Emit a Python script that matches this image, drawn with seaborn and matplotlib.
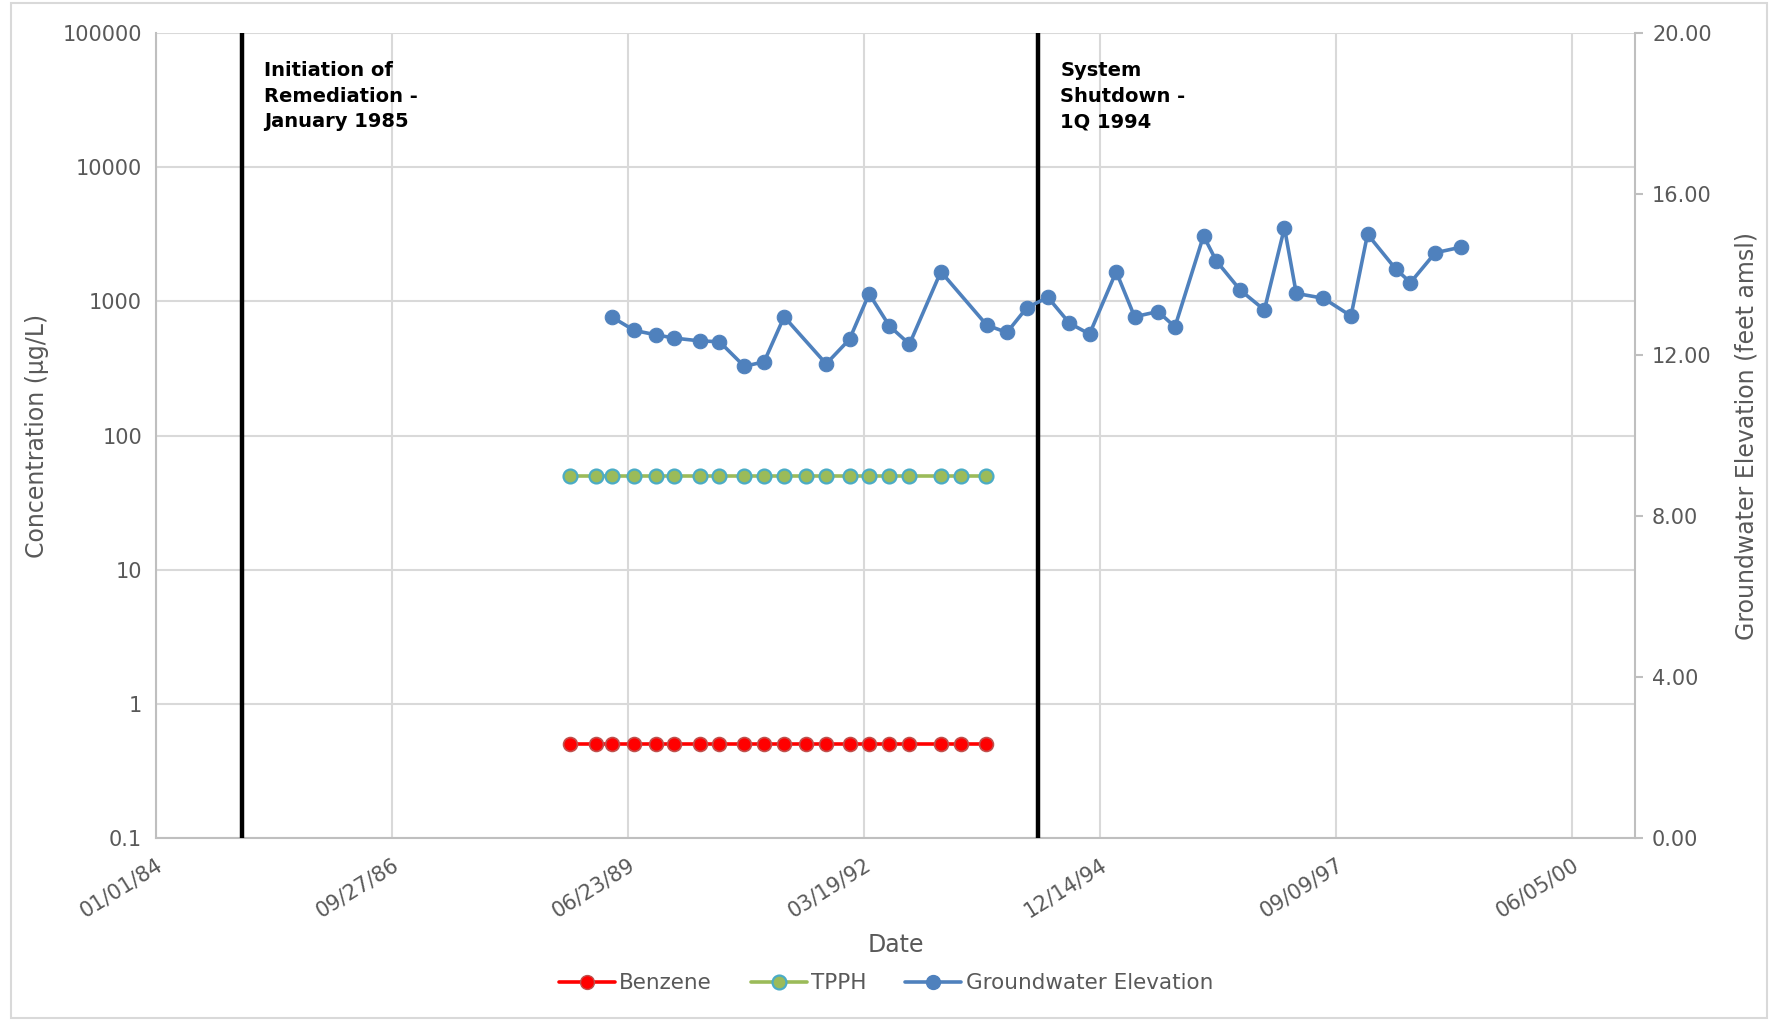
import numpy as np
import pandas as pd
import matplotlib
matplotlib.use("Agg")
import matplotlib.pyplot as plt
import matplotlib.dates as mdates
import matplotlib.patches as mpatches
from matplotlib.lines import Line2D
import seaborn as sns

# ---------------- data ----------------
origin = pd.Timestamp("1984-01-01")
sample_days = [1755, 1864, 1932, 2027, 2120, 2197, 2305, 2388, 2493, 2577,
               2662, 2755, 2840, 2939, 3022, 3108, 3193, 3326, 3411, 3519]
benzene = [0.5, 0.5, 0.5, 0.5, 0.5, 0.5, 0.5, 0.5, 0.5, 0.5,
           0.5, 0.5, 0.5, 0.5, 0.5, 0.5, 0.5, 0.5, 0.5, 0.5]
tpph = [50, 50, 50, 50, 50, 50, 50, 50, 50, 50,
        50, 50, 50, 50, 50, 50, 50, 50, 50, 50]
gw_days = [1933, 2027, 2120, 2197, 2305, 2388, 2493, 2577, 2662, 2840,
           2939, 3022, 3108, 3193, 3326, 3521, 3606, 3691, 3780, 3871,
           3956, 4069, 4147, 4246, 4318, 4439, 4493, 4595, 4697, 4782,
           4832, 4947, 5064, 5134, 5253, 5316, 5421, 5531]
gw_elev = [12.94, 12.61, 12.50, 12.42, 12.35, 12.33, 11.72, 11.83, 12.95, 11.78,
           12.39, 13.52, 12.72, 12.27, 14.07, 12.74, 12.56, 13.18, 13.43, 12.79,
           12.52, 14.07, 12.95, 13.08, 12.70, 14.96, 14.34, 13.61, 13.12, 15.16,
           13.53, 13.41, 12.97, 15.00, 14.14, 13.80, 14.54, 14.68]
event_days = [364, 3737]
event_labels = ["Initiation of\nRemediation -\nJanuary 1985", "System\nShutdown -\n1Q 1994"]
x_tick_days = [0, 1000, 2000, 3000, 4000, 5000, 6000]
y_left_ticks = [0.1, 1, 10, 100, 1000, 10000, 100000]
y_left_labels = ["0.1", "1", "10", "100", "1000", "10000", "100000"]
y_right_ticks = [0, 4, 8, 12, 16, 20]
y_right_labels = ["0.00", "4.00", "8.00", "12.00", "16.00", "20.00"]

conc = pd.DataFrame({
    "Date": origin + pd.to_timedelta(sample_days, unit="D"),
    "Benzene": benzene,
    "TPPH": tpph,
})
gw = pd.DataFrame({
    "Date": origin + pd.to_timedelta(gw_days, unit="D"),
    "Elev": gw_elev,
})

# ---------------- style ----------------
sns.set_style("white")
plt.rcParams["font.family"] = ["DejaVu Sans"]
txt = "#595959"
gridc = "#d9d9d9"
axc = "#bfbfbf"

fig = plt.figure(figsize=(17.72, 10.21), dpi=100)
ax = fig.add_axes([0.088, 0.1792, 0.8349, 0.7885])
ax2 = ax.twinx()

c_benz = "#FF0000"
c_tpph = "#9BBB59"
c_gw = "#4F81BD"

sns.lineplot(data=conc, x="Date", y="TPPH", ax=ax, color=c_tpph, lw=2.6,
             marker="o", markersize=10, markerfacecolor=c_tpph,
             markeredgecolor="#4BACC6", markeredgewidth=1.6, zorder=3)
sns.lineplot(data=conc, x="Date", y="Benzene", ax=ax, color=c_benz, lw=2.6,
             marker="o", markersize=10, markerfacecolor=c_benz,
             markeredgecolor="#C0504D", markeredgewidth=1.2, zorder=3)
sns.lineplot(data=gw, x="Date", y="Elev", ax=ax2, color=c_gw, lw=2.6,
             marker="o", markersize=10.5, markerfacecolor=c_gw,
             markeredgecolor=c_gw, zorder=3)

ax.set_yscale("log")
ax.set_ylim(0.1, 100000)
ax2.set_ylim(0, 20)
ax.set_xlim(origin, origin + pd.Timedelta(days=6269))

ax.set_yticks(y_left_ticks)
ax.set_yticklabels(y_left_labels)
ax.yaxis.set_minor_locator(matplotlib.ticker.NullLocator())
ax2.set_yticks(y_right_ticks)
ax2.set_yticklabels(y_right_labels)

xt = [origin + pd.Timedelta(days=d) for d in x_tick_days]
ax.set_xticks(xt)
ax.xaxis.set_major_formatter(mdates.DateFormatter("%m/%d/%y"))
for lab in ax.get_xticklabels():
    lab.set_rotation(32)
    lab.set_ha("right")
    lab.set_rotation_mode("anchor")

ax.grid(True, which="major", color=gridc, lw=1.5)
ax.set_axisbelow(True)
ax2.grid(False)

for a in (ax, ax2):
    for s in a.spines.values():
        s.set_visible(False)
ax.spines["left"].set_visible(True)
ax.spines["left"].set_color(axc)
ax.spines["left"].set_linewidth(1.5)
ax.spines["bottom"].set_visible(True)
ax.spines["bottom"].set_color(axc)
ax.spines["bottom"].set_linewidth(1.5)
ax2.spines["right"].set_visible(True)
ax2.spines["right"].set_color(axc)
ax2.spines["right"].set_linewidth(1.5)

ax.tick_params(axis="x", colors=txt, labelsize=15, length=0, pad=12)
ax.tick_params(axis="y", colors=txt, labelsize=15, length=0, pad=10)
ax2.tick_params(axis="y", colors=txt, labelsize=15, length=6, width=1.5,
                direction="out", pad=6)
ax2.tick_params(axis="y", color=axc)

ax.set_xlabel("Date", color=txt, fontsize=17, labelpad=8)
ax.set_ylabel("Concentration (µg/L)", color=txt, fontsize=17, labelpad=10)
ax2.set_ylabel("Groundwater Elevation (feet amsl)", color=txt, fontsize=17, labelpad=16)

# event lines and labels
for d, lab in zip(event_days, event_labels):
    dt = origin + pd.Timedelta(days=d)
    ax.axvline(dt, color="black", lw=3.2, zorder=4)
    ax.text(dt + pd.Timedelta(days=95), 62000, lab, fontsize=14,
            fontweight="bold", color="black", va="top", ha="left",
            linespacing=1.45, zorder=5)

handles = [
    Line2D([], [], color=c_benz, lw=2.6, marker="o", markersize=10,
           markerfacecolor=c_benz, markeredgecolor="#C0504D"),
    Line2D([], [], color=c_tpph, lw=2.6, marker="o", markersize=10,
           markerfacecolor=c_tpph, markeredgecolor="#4BACC6", markeredgewidth=1.6),
    Line2D([], [], color=c_gw, lw=2.6, marker="o", markersize=10,
           markerfacecolor=c_gw, markeredgecolor=c_gw),
]
leg = fig.legend(handles, ["Benzene", "TPPH", "Groundwater Elevation"],
                 loc="center", bbox_to_anchor=(0.5, 0.037), ncol=3,
                 frameon=False, fontsize=15.5, handlelength=2.6,
                 handletextpad=0.2, columnspacing=1.8)
for t in leg.get_texts():
    t.set_color(txt)

fig.patches.append(mpatches.Rectangle((0.006, 0.003), 0.991, 0.994,
                                      transform=fig.transFigure, fill=False,
                                      ec=gridc, lw=1.5))

fig.savefig("out.png", dpi=100, facecolor="white")
